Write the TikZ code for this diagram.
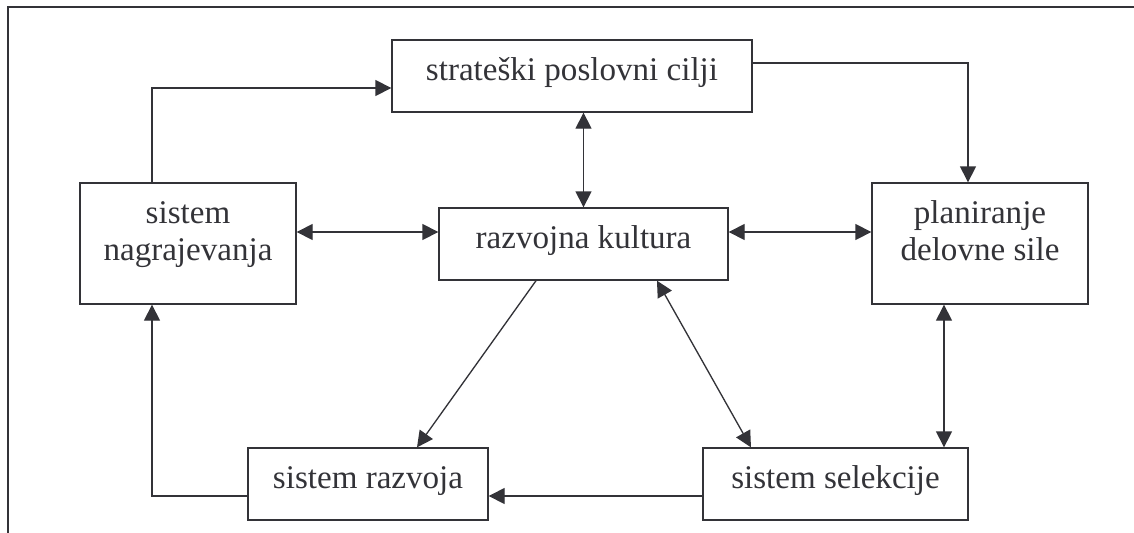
\documentclass[tikz,border=0pt]{standalone}
\usepackage{fontspec}
\setmainfont{Liberation Serif}
\usetikzlibrary{arrows.meta}
\definecolor{ink}{RGB}{51,51,56}
\begin{document}
\begin{tikzpicture}[x=0.75pt,y=-0.75pt,
  box/.style={draw=ink, line width=1pt, text=ink, font=\fontsize{24.8}{27.75}\selectfont,
    inner sep=0pt, text height=12pt, text depth=6pt},
  twoline/.style={text height=0pt, text depth=30.75pt},
  tip/.tip={Triangle[length=12pt,width=12pt]},
  arr/.style={draw=ink, line width=1pt, -tip},
  dbl/.style={draw=ink, line width=1pt, tip-tip}]
\useasboundingbox (0,0) rectangle (1134,532);
\draw[ink, line width=1pt] (1140,7) -- (8,7) -- (8,540);

\node[box, minimum width=270pt, minimum height=54pt] (S) at (572,76) {strateški poslovni cilji};
\node[box, twoline, minimum width=162pt, minimum height=90.75pt] (N) at (188,243.5)
  {\begin{tabular}[t]{@{}c@{}}sistem\\nagrajevanja\end{tabular}};
\node[box, minimum width=216.75pt, minimum height=54pt] (R) at (583.5,244) {razvojna kultura};
\node[box, twoline, minimum width=162pt, minimum height=90.75pt] (P) at (980,243.5)
  {\begin{tabular}[t]{@{}c@{}}planiranje\\delovne sile\end{tabular}};
\node[box, minimum width=180pt, minimum height=54pt] (V) at (368,484) {sistem razvoja};
\node[box, minimum width=198.75pt, minimum height=54pt] (L) at (835.5,484) {sistem selekcije};

\draw[arr] ([xshift=-27pt]N.north) |- ([yshift=-9pt]S.west);
\draw[arr] ([yshift=9.75pt]S.east) -| ([xshift=-9pt]P.north);
\draw[dbl] (R.north |- S.south) -- (R.north);
\draw[dbl] ([yshift=9pt]R.west -| N.east) -- ([yshift=9pt]R.west);
\draw[dbl] ([yshift=9pt]R.east) -- ([yshift=9pt]R.east -| P.west);
\draw[arr] ([xshift=-35.6pt]R.south) -- ([xshift=36.75pt]V.north);
\draw[dbl] ([xshift=55.1pt]R.south) -- ([xshift=-63.4pt]L.north);
\draw[dbl] ([xshift=-27pt]P.south) -- ([xshift=-27pt]P.south |- L.north);
\draw[arr] ([yshift=-9pt]L.west) -- ([yshift=-9pt]L.west -| V.east);
\draw[arr] ([yshift=-9pt]V.west) -| ([xshift=-27pt]N.south);
\end{tikzpicture}
\end{document}
